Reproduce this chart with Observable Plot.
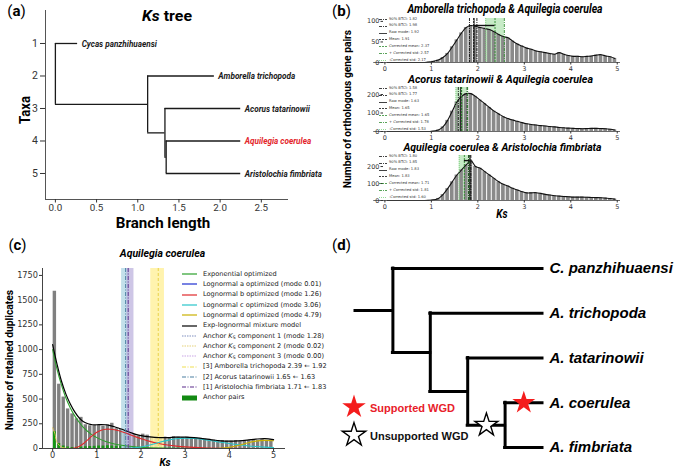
<!DOCTYPE html>
<html><head><meta charset="utf-8">
<script src="https://cdn.jsdelivr.net/npm/d3@7"></script>
<script src="https://cdn.jsdelivr.net/npm/@observablehq/plot@0.6"></script>
<style>
body{margin:0;background:#fff;}
#root{position:relative;width:681px;height:469px;overflow:hidden;background:#fff;font-family:Roboto,sans-serif;}
.abs{position:absolute;white-space:nowrap;}
sub{vertical-align:-0.25em;font-size:0.7em;line-height:0;}
</style></head><body><div id="root"></div>
<script>
// ================= DATA =================
// (a) Ks tree
const aNodes   = ["root","Cycas panzhihuaensi","n1","Amborella trichopoda","n2","Acorus tatarinowii","n3","Aquilegia coerulea","Aristolochia fimbriata"];
const aParents = [null,"root","root","n1","n1","n2","n2","n3","n3"];
const aBranchX = [0,0.27,1.12,1.93,1.33,2.25,1.345,2.25,2.25];
const aFocus   = "Aquilegia coerulea";
const aXTicks  = [0,0.5,1,1.5,2,2.5];
const aYTicks  = [1,2,3,4,5];

// (b) ortholog Ks distributions
const bTitles = ["Amborella trichopoda & Aquilegia coerulea","Acorus tatarinowii & Aquilegia coerulea","Aquilegia coerulea & Aristolochia fimbriata"];
const binStarts = [0,0.1,0.2,0.3,0.4,0.5,0.6,0.7,0.8,0.9,1,1.1,1.2,1.3,1.4,1.5,1.6,1.7,1.8,1.9,2,2.1,2.2,2.3,2.4,2.5,2.6,2.7,2.8,2.9,3,3.1,3.2,3.3,3.4,3.5,3.6,3.7,3.8,3.9,4,4.1,4.2,4.3,4.4,4.5,4.6,4.7,4.8,4.9];
const bCounts1 = [0,0,0,0,0,0,0,0,0,1, 3,6,12,22,38,55,72,85,90,88, 85,83,80,75,68,63,60,52,45,40, 35,32,28,26,24,22,20,24,20,17, 15,15,14,15,16,18,19,16,14,10];
const bCounts2 = [0,0,0,0,0,0,0,0,0,0, 2,8,25,60,110,160,190,205,205,190, 170,150,130,110,95,80,70,62,55,48, 42,38,35,32,30,27,25,22,20,18, 17,16,15,16,17,17,16,15,12,8];
const bCounts3 = [0,0,0,0,0,0,0,0,0,1, 4,12,35,70,110,150,180,210,235,200, 190,170,150,130,110,95,85,72,62,52, 45,45,46,42,36,32,28,26,24,22, 20,20,20,19,18,17,16,14,12,8];
const bStatNames = ["90% BTCI","90% BTCI","Raw mode","Mean","Corrected mean","+ Corrected std","-Corrected std"];
const bStats1 = [1.82,1.98,1.92,1.91,2.37,2.57,2.17];
const bStats2 = [1.58,1.77,1.63,1.65,1.65,1.78,1.53];
const bStats3 = [1.80,1.85,1.83,1.83,1.71,1.81,1.60];
const bXTicks  = [0,1,2,3,4,5];
const bYTicks1 = [0,50,100];
const bYTicks2 = [0,100,200];
const bYTicks3 = [0,100,200];

// (c) paralog Ks distribution of Aquilegia coerulea
const cCounts = [1590,650,520,400,350,300,315,240,230,230, 235,225,240,255,200,190,170,150,140,125, 145,135,120,115,110,115,110,120,115,110, 115,105,100,105,95,90,85,80,80,75, 75,80,70,75,80,85,80,90,80,85];
const cAnchorCounts = [170,50,25,15,10,12,15,18,20,22, 25,25,28,25,22,20,18,15,12,10, 8,6,5,4,3,3,2,2,2,2, 1,1,1,1,1,1,1,1,1,1, 0,0,0,0,0,0,0,0,0,0];
const cExpX = [0,0.1,0.2,0.3,0.4,0.5,0.6,0.7,0.8,0.9,1.0,1.2,1.4,1.6,1.8,2.0,2.5,3.0,4.0,5.0];
const cExpY = [1000,800,640,510,410,330,265,210,170,135,110,70,45,30,20,13,5,2,0,0];
const cLnbX = [0.4,0.5,0.6,0.7,0.8,0.9,1.0,1.1,1.2,1.3,1.4,1.5,1.6,1.7,1.8,1.9,2.0,2.2,2.4,2.6,2.8,3.0,3.4,4.0,5.0];
const cLnbY = [0,5,20,50,90,130,165,185,195,195,190,180,165,150,132,115,100,72,50,35,24,16,7,2,0];
const cLncX = [1.6,1.8,2.0,2.2,2.4,2.6,2.8,3.0,3.2,3.4,3.6,3.8,4.0,4.2,4.4,4.6,4.8,5.0];
const cLncY = [0,5,15,35,60,82,98,105,102,92,78,63,50,38,28,20,14,10];
const cLndX = [3.6,3.8,4.0,4.2,4.4,4.6,4.8,5.0];
const cLndY = [0,3,12,30,55,75,82,78];
const cMixX = [0,0.1,0.2,0.3,0.4,0.5,0.6,0.7,0.8,0.9,1.0,1.1,1.2,1.3,1.4,1.5,1.6,1.7,1.8,1.9,2.0,2.2,2.4,2.6,2.8,3.0,3.2,3.4,3.6,3.8,4.0,4.2,4.4,4.6,4.8,5.0];
const cMixY = [1050,850,680,550,450,370,310,270,250,240,240,242,240,232,220,205,190,172,155,140,130,117,110,110,115,115,110,100,88,78,75,78,85,95,100,90];
const cAnc2X = [0,0.05,0.1,0.2,0.3,0.5];
const cAnc2Y = [210,150,60,15,3,0];
const cRefKs = [2.39,1.65,1.71];
const cRefLo = [2.22,1.56,1.68];
const cRefHi = [2.53,1.74,1.84];
const cLegendLabels = [
  "Exponential optimized",
  "Lognormal a optimized (mode 0.01)",
  "Lognormal b optimized (mode 1.26)",
  "Lognormal c optimized (mode 3.06)",
  "Lognormal d optimized (mode 4.79)",
  "Exp-lognormal mixture model",
  "Anchor K_S component 1 (mode 1.28)",
  "Anchor K_S component 2 (mode 0.02)",
  "Anchor K_S component 3 (mode 0.00)",
  "[3] Amborella trichopoda 2.39 ← 1.92",
  "[2] Acorus tatarinowii 1.65 ← 1.63",
  "[1] Aristolochia  fimbriata 1.71 ← 1.83",
  "Anchor pairs"];
const cXTicks = [0,1,2,3,4,5];
const cYTicks = [0,250,500,750,1000,1250,1500,1750];

// (d) WGD placement tree
const dNodes   = ["stem","root","C. panzhihuaensi","n1","A. trichopoda","n2","A. tatarinowii","n3","A. coerulea","A. fimbriata"];
const dParents = [null,"stem","root","root","n1","n1","n2","n2","n3","n3"];
const dDepth   = [0,1,5,2,5,3,5,4,5,5];
const dWgdBranch    = ["A. coerulea","n3"];
const dWgdSupported = [true,false];
const dLegend = ["Supported WGD","Unsupported WGD"];

// ================= STYLES =================
const bStatColor = ["#111","#111","#111","#111","#2e8b2e","#2e8b2e","#7ccf7c"];
const bStatDash  = ["3,1,1,1","3,1,1,1",null,"2,1","2,1","3,1,1,1","1,1"];
const cLegendStyle = [
  {c:"#2ca02c"},{c:"#1f2fd0"},{c:"#e0282a"},{c:"#27c4c9"},{c:"#c9b100"},{c:"#000"},
  {c:"#8090c0",dash:"1.5,1"},{c:"#e6d27a",dash:"1.5,1"},{c:"#c9a6e6",dash:"1.5,1"},
  {c:"#f0e050",dash:"4,1.5,1,1.5"},{c:"#4a7fa0",dash:"4,1.5,1,1.5"},{c:"#5a2a8a",dash:"4,1.5,1,1.5"},
  {c:"#138a13",rect:true}];
const cBandColor = ["#fff1a0","#a9d3e3","#b3a8d8"];
const cBandOpacity = [0.85,0.7,0.65];
const cRefColor = ["#e6d040","#4a7fa0","#5a2a8a"];
const cRefDash  = ["3,2","4,1.5,1,1.5","4,1.5,1,1.5"];
const intFmt = d3.format("d");

// ================= HELPERS =================
const root = document.getElementById("root");
function txt(html, o){
  const el = document.createElement("div");
  el.className = "abs";
  el.innerHTML = html;
  Object.assign(el.style, {left:"0px", top:"0px", fontSize:o.size+"px", fontFamily:o.family||"Roboto",
    fontWeight:o.weight||"normal", fontStyle:o.style||"normal", color:o.color||"#000", lineHeight:"1", transformOrigin:"0 0"});
  root.appendChild(el);
  const s = o.width ? o.width / el.offsetWidth : 1;
  const tx = o.anchor === "start" ? "0" : (o.anchor === "end" ? "-100%" : "-50%");
  el.style.transform = `translate(${o.x}px,${o.y}px) rotate(${o.rotate||0}deg) scaleX(${s}) translate(${tx},-50%)`;
  return el;
}
function place(node, left, top){
  const w = document.createElement("div");
  w.className = "abs"; w.style.left = left+"px"; w.style.top = top+"px";
  w.appendChild(node); root.appendChild(w); return node;
}
function layoutTree(names, parents, depths, offset){
  const nodes = names.map((id,i)=>({id, parent:parents[i], x:depths[i], children:[]}));
  const byId = new Map(nodes.map(n=>[n.id,n]));
  nodes.forEach(n=>{ if(n.parent) byId.get(n.parent).children.push(n); });
  let k = 0;
  (function setY(n){
    if(!n.children.length) n.y = offset + k++;
    else { n.children.forEach(setY); n.y = d3.mean(n.children, c=>c.y); }
  })(nodes[0]);
  const h = nodes.filter(n=>n.parent).map(n=>({x1:byId.get(n.parent).x, x2:n.x, y:n.y}));
  const v = nodes.filter(n=>n.children.length>1).map(n=>({x:n.x, y1:d3.min(n.children,c=>c.y), y2:d3.max(n.children,c=>c.y)}));
  return {nodes, byId, h, v, leaves:nodes.filter(n=>!n.children.length)};
}
function pts(xs, ys){ return xs.map((x,i)=>({x, y:ys[i]})); }
function lineSample(svgW, svgH, st, w){
  const ns = "http://www.w3.org/2000/svg";
  const s = document.createElementNS(ns,"svg");
  s.setAttribute("width",svgW); s.setAttribute("height",svgH);
  s.style.display="block";
  if(st.rect){
    const r = document.createElementNS(ns,"rect");
    r.setAttribute("x",0); r.setAttribute("y",svgH/2-2.5); r.setAttribute("width",svgW); r.setAttribute("height",5);
    r.setAttribute("fill",st.c); s.appendChild(r);
  } else {
    const l = document.createElementNS(ns,"line");
    l.setAttribute("x1",0); l.setAttribute("x2",svgW); l.setAttribute("y1",svgH/2); l.setAttribute("y2",svgH/2);
    l.setAttribute("stroke",st.c); l.setAttribute("stroke-width",w);
    if(st.dash) l.setAttribute("stroke-dasharray",st.dash);
    s.appendChild(l);
  }
  return s;
}

// ================= PANEL (a) =================
const aT = layoutTree(aNodes, aParents, aBranchX, 1);
const aLeafFont = {fontSize:9.5, fontWeight:"bold", fontStyle:"italic", fontFamily:"Roboto"};
const svgA = Plot.plot({
  width:340, height:230, marginLeft:45, marginRight:52, marginTop:10, marginBottom:31,
  x:{domain:[-0.12,2.83]}, y:{domain:[-0.015,5.8], reverse:true},
  style:{fontFamily:"Roboto", color:"#333", background:"transparent", overflow:"visible"},
  marks:[
    Plot.ruleX([-0.12],{stroke:"#555"}),
    Plot.ruleY([5.8],{stroke:"#555"}),
    Plot.axisX({ticks:aXTicks, tickFormat:d3.format(".1f"), tickSize:3.5, tickPadding:1, fontSize:9.8, label:null}),
    Plot.axisY({ticks:aYTicks, tickFormat:intFmt, tickSize:5, tickPadding:2.5, fontSize:10.5, label:null}),
    Plot.ruleY(aT.h,{x1:"x1", x2:"x2", y:"y", stroke:"#1a1a1a", strokeWidth:1.3}),
    Plot.ruleX(aT.v,{x:"x", y1:"y1", y2:"y2", stroke:"#1a1a1a", strokeWidth:1.3}),
    Plot.text(aT.leaves.filter(d=>d.id!==aFocus),{x:"x", y:"y", text:"id", dx:4, textAnchor:"start", fill:"#1a1a1a", ...aLeafFont}),
    Plot.text(aT.leaves.filter(d=>d.id===aFocus),{x:"x", y:"y", text:"id", dx:4, textAnchor:"start", fill:"#e3262b", ...aLeafFont})
  ]
});
place(svgA, 0, 0);
d3.select(svgA).selectAll('g[aria-label="text"] text').each(function(){
  const w = this.getComputedTextLength();
  this.setAttribute("textLength", w*0.86); this.setAttribute("lengthAdjust","spacingAndGlyphs");
});
txt("(<b>a</b>)", {x:16.5, y:11.5, size:15});
txt("<i>Ks</i> tree", {x:167, y:15.5, size:14, weight:"bold", width:50});
txt("Branch length", {x:163, y:222.8, size:14, weight:"bold", width:94});
txt("Taxa", {x:25, y:110, size:15, weight:"bold", rotate:-90, width:28});

// ================= PANEL (b) =================
function bPanel(counts, stats, yMax, yTicks, frameTop, frameBottom){
  const data = binStarts.map((x0,i)=>({x0, x1:x0+0.1, v:counts[i]}));
  const marks = [
    Plot.rect([{lo:stats[6], hi:stats[5]}],{x1:"lo", x2:"hi", y1:0, y2:yMax, fill:"#8fd88f", fillOpacity:0.5}),
    Plot.rect(data,{x1:"x0", x2:"x1", y1:0, y2:"v", fill:"#8a8a8a", insetLeft:0.5, insetRight:0.5}),
    Plot.line(data,{x:d=>d.x0+0.05, y:"v", curve:"catmull-rom", stroke:"#111", strokeWidth:1.1}),
    ...stats.map((s,i)=>Plot.ruleX([s],{stroke:bStatColor[i], strokeDasharray:bStatDash[i], strokeWidth:0.9})),
    Plot.ruleY([{y:d3.max(counts), a:stats[2], b:stats[4]}],{y:"y", x1:"a", x2:"b", stroke:"#111", strokeWidth:1.4}),
    Plot.ruleY([0],{x1:-0.24, x2:5.07, stroke:"#444", strokeWidth:0.8}),
    Plot.axisX({ticks:bXTicks, tickFormat:intFmt, tickSize:2.5, tickPadding:1, fontSize:6.5, label:null}),
    Plot.axisY({ticks:yTicks, tickFormat:intFmt, tickSize:2.5, tickPadding:1.5, fontSize:6.5, label:null})
  ];
  const svg = Plot.plot({
    width:341, height:frameBottom-frameTop+16, marginLeft:43, marginRight:61, marginTop:2, marginBottom:14,
    x:{domain:[-0.03,5.07]}, y:{domain:[0,yMax]},
    style:{fontFamily:"DejaVu Sans", color:"#333", background:"transparent", overflow:"visible"},
    marks
  });
  place(svg, 340, frameTop-2);
  // small legend
  stats.forEach((s,i)=>{
    const y = frameTop + 1.5 + i*6.83;
    place(lineSample(8, 3, {c:bStatColor[i], dash:bStatDash[i]}, 0.8), 379, y-1.5);
    txt(`${bStatNames[i]}: ${s.toFixed(2)}`, {x:389, y, size:3.7, family:"DejaVu Sans", color:"#333", anchor:"start"});
  });
}
bPanel(bCounts1, bStats1, 107, bYTicks1, 18, 62);
bPanel(bCounts2, bStats2, 238, bYTicks2, 87, 131);
bPanel(bCounts3, bStats3, 265, bYTicks3, 155, 200);
txt("(<b>b</b>)", {x:341.5, y:11.5, size:15});
txt(bTitles[0], {x:505, y:9, size:12, weight:"bold", style:"italic", width:195});
txt(bTitles[1], {x:500.5, y:79.5, size:11.5, weight:"bold", style:"italic", width:185});
txt(bTitles[2], {x:502.5, y:148, size:11.5, weight:"bold", style:"italic", width:198});
txt("Number of orthologous gene pairs", {x:348, y:109, size:10, weight:"bold", rotate:-90, width:158});
txt("<i>Ks</i>", {x:502, y:213.5, size:12, weight:"bold", width:11});

// ================= PANEL (c) =================
const cData = binStarts.map((x0,i)=>({x0, x1:x0+0.1, v:cCounts[i], a:cAnchorCounts[i]}));
const svgC = Plot.plot({
  width:340, height:207, marginLeft:42, marginRight:55, marginTop:6, marginBottom:21,
  x:{domain:[-0.23,5.27]}, y:{domain:[0,1820]},
  style:{fontFamily:"DejaVu Sans", color:"#333", background:"transparent", overflow:"visible"},
  marks:[
    Plot.rect(cData,{x1:"x0", x2:"x1", y1:0, y2:"v", fill:"#808080", insetLeft:0.5, insetRight:0.5}),
    Plot.rect(cData,{x1:"x0", x2:"x1", y1:0, y2:"a", fill:"#149614", insetLeft:0.8, insetRight:0.8}),
    ...cRefKs.map((k,i)=>Plot.rect([{lo:cRefLo[i], hi:cRefHi[i]}],{x1:"lo", x2:"hi", y1:0, y2:1820, fill:cBandColor[i], fillOpacity:cBandOpacity[i]})),
    Plot.line(pts(cAnc2X,cAnc2Y),{x:"x", y:"y", curve:"catmull-rom", stroke:"#e6c850", strokeWidth:1, strokeDasharray:"1.5,1"}),
    Plot.line(pts(cExpX,cExpY),{x:"x", y:"y", curve:"catmull-rom", stroke:"#2ca02c", strokeWidth:1.1}),
    Plot.line(pts(cLnbX,cLnbY),{x:"x", y:"y", curve:"catmull-rom", stroke:"#e0282a", strokeWidth:1.1}),
    Plot.line(pts(cLncX,cLncY),{x:"x", y:"y", curve:"catmull-rom", stroke:"#27c4c9", strokeWidth:1.1}),
    Plot.line(pts(cLndX,cLndY),{x:"x", y:"y", curve:"catmull-rom", stroke:"#c9b100", strokeWidth:1.1}),
    Plot.line(pts(cMixX,cMixY),{x:"x", y:"y", curve:"catmull-rom", stroke:"#000", strokeWidth:1.2}),
    ...cRefKs.map((k,i)=>Plot.ruleX([k],{stroke:cRefColor[i], strokeDasharray:cRefDash[i], strokeWidth:0.9})),
    Plot.ruleX([-0.23],{stroke:"#444"}),
    Plot.ruleY([0],{stroke:"#444"}),
    Plot.axisX({ticks:cXTicks, tickFormat:intFmt, tickSize:3, tickPadding:1, fontSize:8.2, label:null}),
    Plot.axisY({ticks:cYTicks, tickFormat:intFmt, tickSize:3, tickPadding:1.5, fontSize:8.2, label:null})
  ]
});
place(svgC, 0, 262);
cLegendLabels.forEach((lab,i)=>{
  const y = 274 + i*10.3;
  place(lineSample(15, 6, cLegendStyle[i], 1.2), 182, y-3);
  const html = lab.replace("K_S","<i>K</i><sub>S</sub>");
  txt(html, {x:203, y, size:6.6, family:"DejaVu Sans", color:"#222", anchor:"start"});
});
txt("(<b>c</b>)", {x:17.5, y:245.5, size:15});
txt("Aquilegia coerulea", {x:162.5, y:253.5, size:10, weight:"bold", style:"italic", width:85});
txt("Number of retained duplicates", {x:9.5, y:360, size:10, weight:"bold", rotate:-90, width:140});
txt("<i>Ks</i>", {x:165, y:463, size:10, weight:"bold"});

// ================= PANEL (d) =================
const dT = layoutTree(dNodes, dParents, dDepth, 0);
const wgd = dWgdBranch.map((b,i)=>{
  const n = dT.byId.get(b), p = dT.byId.get(n.parent);
  return {x:(p.x+n.x)/2, y:n.y, sup:dWgdSupported[i]};
});
const svgD = Plot.plot({
  width:341, height:239, marginLeft:15, marginRight:139, marginTop:38, marginBottom:22,
  x:{domain:[0,5], axis:null}, y:{domain:[0,4], reverse:true, axis:null},
  style:{background:"transparent", overflow:"visible"},
  marks:[
    Plot.ruleY(dT.h,{x1:"x1", x2:"x2", y:"y", stroke:"#000", strokeWidth:3, strokeLinecap:"square"}),
    Plot.ruleX(dT.v,{x:"x", y1:"y1", y2:"y2", stroke:"#000", strokeWidth:3, strokeLinecap:"square"}),
    Plot.text(dT.leaves,{x:"x", y:"y", text:"id", dx:7, textAnchor:"start", fontSize:15, fontWeight:"bold", fontStyle:"italic", fontFamily:"Liberation Sans", fill:"#000"}),
    Plot.dot(wgd.filter(d=>d.sup),{x:"x", y:"y", symbol:"star", r:7.2, fill:"#f41c1c", stroke:"none"}),
    Plot.dot(wgd.filter(d=>!d.sup),{x:"x", y:"y", symbol:"star", r:7.2, fill:"#fff", stroke:"#000", strokeWidth:1.4})
  ]
});
place(svgD, 340, 230);
txt("(<b>d</b>)", {x:341.5, y:245, size:15});
const starPath = d3.symbol(d3.symbolStar, Math.PI*7.4*7.4)();
dLegend.forEach((lab,i)=>{
  const cy = 407 + i*28;
  const ns = "http://www.w3.org/2000/svg";
  const s = document.createElementNS(ns,"svg");
  s.setAttribute("width",30); s.setAttribute("height",30); s.style.overflow="visible";
  const p = document.createElementNS(ns,"path");
  p.setAttribute("d",starPath); p.setAttribute("transform","translate(15,15)");
  p.setAttribute("fill", i===0 ? "#f41c1c" : "#fff");
  p.setAttribute("stroke", i===0 ? "none" : "#000"); p.setAttribute("stroke-width",1.4);
  s.appendChild(p);
  place(s, 353.5-15, cy-15);
  txt(lab, {x:370, y:cy+1.5, size:11, weight:"bold", family:"Liberation Sans", color:i===0?"#e8202a":"#111", anchor:"start"});
});
</script></body></html>
